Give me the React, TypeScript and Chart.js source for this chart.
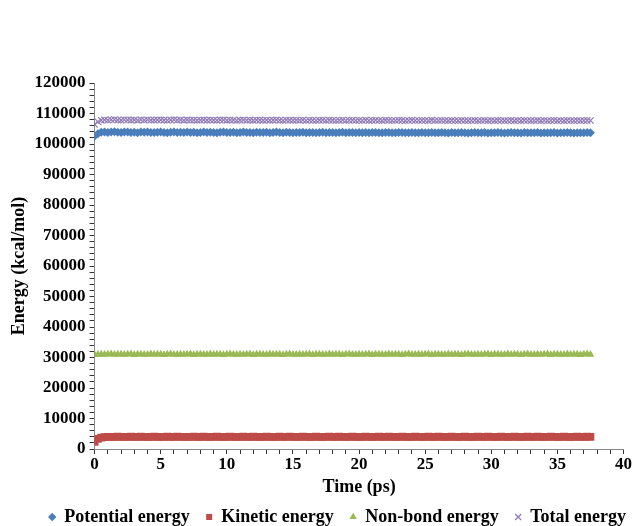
import React, { useEffect, useRef } from "react";
import { Chart, registerables } from "chart.js";

Chart.register(...registerables);

const timePs = [
  0, 0.25, 0.5, 0.75, 1, 1.25, 1.5, 1.75, 2, 2.25,
  2.5, 2.75, 3, 3.25, 3.5, 3.75, 4, 4.25, 4.5, 4.75,
  5, 5.25, 5.5, 5.75, 6, 6.25, 6.5, 6.75, 7, 7.25,
  7.5, 7.75, 8, 8.25, 8.5, 8.75, 9, 9.25, 9.5, 9.75,
  10, 10.25, 10.5, 10.75, 11, 11.25, 11.5, 11.75, 12, 12.25,
  12.5, 12.75, 13, 13.25, 13.5, 13.75, 14, 14.25, 14.5, 14.75,
  15, 15.25, 15.5, 15.75, 16, 16.25, 16.5, 16.75, 17, 17.25,
  17.5, 17.75, 18, 18.25, 18.5, 18.75, 19, 19.25, 19.5, 19.75,
  20, 20.25, 20.5, 20.75, 21, 21.25, 21.5, 21.75, 22, 22.25,
  22.5, 22.75, 23, 23.25, 23.5, 23.75, 24, 24.25, 24.5, 24.75,
  25, 25.25, 25.5, 25.75, 26, 26.25, 26.5, 26.75, 27, 27.25,
  27.5, 27.75, 28, 28.25, 28.5, 28.75, 29, 29.25, 29.5, 29.75,
  30, 30.25, 30.5, 30.75, 31, 31.25, 31.5, 31.75, 32, 32.25,
  32.5, 32.75, 33, 33.25, 33.5, 33.75, 34, 34.25, 34.5, 34.75,
  35, 35.25, 35.5, 35.75, 36, 36.25, 36.5, 36.75, 37, 37.25,
  37.5,
];

const potentialEnergy = [
  102600, 103400, 103850, 103950, 103800, 103900, 104000, 103850, 103750, 103900,
  103950, 103800, 103850, 103700, 103900, 103850, 103950, 103800, 103750, 103850,
  103900, 103800, 103700, 103850, 103950, 103800, 103850, 103750, 103900, 103800,
  103850, 103700, 103800, 103900, 103750, 103850, 103800, 103700, 103850, 103900,
  103750, 103800, 103850, 103700, 103800, 103900, 103750, 103800, 103700, 103850,
  103800, 103750, 103850, 103700, 103800, 103900, 103750, 103700, 103850, 103800,
  103700, 103800, 103750, 103850, 103700, 103800, 103750, 103650, 103800, 103850,
  103700, 103750, 103800, 103650, 103750, 103850, 103700, 103750, 103800, 103650,
  103750, 103700, 103800, 103650, 103750, 103800, 103700, 103650, 103800, 103750,
  103650, 103700, 103800, 103750, 103650, 103700, 103800, 103700, 103650, 103750,
  103700, 103650, 103800, 103700, 103650, 103750, 103700, 103600, 103750, 103700,
  103650, 103750, 103700, 103600, 103700, 103750, 103650, 103700, 103750, 103600,
  103700, 103650, 103750, 103700, 103600, 103700, 103750, 103650, 103700, 103600,
  103750, 103700, 103650, 103700, 103750, 103600, 103700, 103650, 103700, 103750,
  103600, 103700, 103650, 103750, 103700, 103600, 103700, 103650, 103700, 103750,
  103700,
];

const kineticEnergy = [
  2300, 3300, 3750, 3900, 3950, 4000, 3950, 4050, 4000, 3950,
  4000, 4050, 3950, 4000, 4050, 4000, 3950, 4000, 4050, 4000,
  3950, 4000, 4050, 3950, 4000, 4050, 4000, 3950, 4000, 4000,
  4050, 3950, 4000, 4050, 4000, 3950, 4000, 4050, 4000, 3950,
  4000, 4050, 3950, 4000, 4000, 4050, 3950, 4000, 4050, 4000,
  3950, 4000, 4050, 4000, 3950, 4000, 4050, 3950, 4000, 4050,
  4000, 3950, 4000, 4050, 4000, 3950, 4000, 4050, 4000, 3950,
  4000, 4050, 3950, 4000, 4050, 4000, 3950, 4000, 4050, 4000,
  3950, 4000, 4050, 4000, 3950, 4000, 4050, 3950, 4000, 4050,
  4000, 3950, 4000, 4050, 4000, 3950, 4000, 4050, 4000, 3950,
  4000, 4050, 3950, 4000, 4050, 4000, 3950, 4000, 4050, 4000,
  3950, 4000, 4050, 4000, 3950, 4000, 4050, 3950, 4000, 4050,
  4000, 3950, 4000, 4050, 4000, 3950, 4000, 4050, 4000, 3950,
  4000, 4050, 3950, 4000, 4050, 4000, 3950, 4000, 4050, 4000,
  3950, 4000, 4050, 4000, 3950, 4000, 4050, 3950, 4000, 4050,
  4000,
];

const nonBondEnergy = [
  30900, 31000, 31100, 30950, 31050, 31150, 30950, 31050, 31100, 30950,
  31050, 31150, 30900, 31050, 31100, 30950, 31000, 31150, 30950, 31050,
  31100, 30900, 31050, 31150, 30950, 31000, 31100, 30950, 31050, 31150,
  30900, 31050, 31100, 30950, 31000, 31150, 30950, 31050, 31100, 30900,
  31050, 31150, 30950, 31000, 31100, 30950, 31050, 31150, 30900, 31050,
  31100, 30950, 31000, 31150, 30950, 31050, 31100, 30900, 31050, 31150,
  30950, 31000, 31100, 30950, 31050, 31150, 30900, 31050, 31100, 30950,
  31000, 31150, 30950, 31050, 31100, 30900, 31050, 31150, 30950, 31000,
  31100, 30950, 31050, 31150, 30900, 31050, 31100, 30950, 31000, 31150,
  30950, 31050, 31100, 30900, 31050, 31150, 30950, 31000, 31100, 30950,
  31050, 31150, 30900, 31050, 31100, 30950, 31000, 31150, 30950, 31050,
  31100, 30900, 31050, 31150, 30950, 31000, 31100, 30950, 31050, 31150,
  30900, 31050, 31100, 30950, 31000, 31150, 30950, 31050, 31100, 30900,
  31050, 31150, 30950, 31000, 31100, 30950, 31050, 31150, 30900, 31050,
  31100, 30950, 31000, 31150, 30950, 31050, 31100, 30900, 31050, 31150,
  30950,
];

const totalEnergy = [
  106400, 107300, 107750, 107900, 107800, 107950, 108000, 107850, 107800, 107950,
  107900, 107800, 107900, 107750, 107950, 107850, 107950, 107800, 107800, 107900,
  107900, 107800, 107750, 107900, 107950, 107800, 107900, 107750, 107900, 107850,
  107850, 107750, 107800, 107900, 107800, 107850, 107800, 107750, 107900, 107900,
  107750, 107850, 107850, 107700, 107800, 107900, 107750, 107800, 107750, 107850,
  107800, 107750, 107850, 107750, 107800, 107900, 107750, 107700, 107850, 107800,
  107750, 107800, 107750, 107850, 107700, 107800, 107750, 107700, 107800, 107850,
  107700, 107800, 107750, 107700, 107750, 107850, 107700, 107750, 107800, 107700,
  107750, 107700, 107800, 107700, 107750, 107800, 107700, 107650, 107800, 107750,
  107700, 107700, 107800, 107750, 107650, 107700, 107800, 107700, 107700, 107750,
  107700, 107650, 107800, 107700, 107700, 107750, 107700, 107650, 107750, 107700,
  107650, 107750, 107700, 107650, 107700, 107750, 107650, 107700, 107750, 107650,
  107700, 107650, 107750, 107700, 107650, 107700, 107750, 107650, 107700, 107650,
  107750, 107700, 107650, 107700, 107750, 107650, 107700, 107650, 107700, 107750,
  107650, 107700, 107650, 107750, 107700, 107650, 107700, 107650, 107700, 107750,
  107700,
];

const seriesLabels = ["Potential energy", "Kinetic energy", "Non-bond energy", "Total energy"];
const xTickValues = [0, 5, 10, 15, 20, 25, 30, 35, 40];
const yTickLabelStep = 10000;

const FONT = "'Liberation Serif', 'Times New Roman', serif";

function toPoints(ys: number[]) {
  return ys.map((y, i) => ({ x: timePs[i], y }));
}

export default function App() {
  const ref = useRef<HTMLCanvasElement | null>(null);

  useEffect(() => {
    document.body.style.margin = "0";
    const canvas = ref.current;
    if (!canvas) return;
    Chart.defaults.font.family = FONT;
    const chart = new Chart(canvas, {
      type: "scatter",
      data: {
        datasets: [
          {
            label: seriesLabels[0],
            data: toPoints(potentialEnergy),
            pointStyle: "rectRot",
            pointRadius: 4.5,
            backgroundColor: "#4A7EBB",
            borderColor: "#4A7EBB",
            borderWidth: 0,
          },
          {
            label: seriesLabels[1],
            data: toPoints(kineticEnergy),
            pointStyle: "rect",
            pointRadius: 5.5,
            backgroundColor: "#BE4B48",
            borderColor: "#BE4B48",
            borderWidth: 0,
          },
          {
            label: seriesLabels[2],
            data: toPoints(nonBondEnergy),
            pointStyle: "triangle",
            pointRadius: 4.5,
            backgroundColor: "#98B954",
            borderColor: "#98B954",
            borderWidth: 0,
          },
          {
            label: seriesLabels[3],
            data: toPoints(totalEnergy),
            pointStyle: "crossRot",
            pointRadius: 4.5,
            backgroundColor: "#9079B6",
            borderColor: "#9079B6",
            borderWidth: 1.2,
          },
        ],
      },
      options: {
        animation: false,
        responsive: false,
        layout: { padding: { top: 83, right: 0, left: 9, bottom: -10 } },
        plugins: {
          tooltip: { enabled: false },
          legend: {
            position: "bottom",
            align: "end",
            labels: {
              usePointStyle: true,
              boxWidth: 6,
              boxHeight: 6,
              padding: 6,
              color: "#000",
              font: { family: FONT, size: 18, weight: "bold" },
              generateLabels: (c: any) => {
                const items = Chart.defaults.plugins.legend.labels.generateLabels(c);
                return items.map((it: any, i: number) => ({
                  ...it,
                  text: i < items.length - 1 ? it.text + "  \u200A" : it.text,
                }));
              },
            },
          },
        },
        scales: {
          x: {
            type: "linear",
            min: 0,
            max: 40,
            border: { color: "#888", width: 1 },
            grid: { drawOnChartArea: false, tickLength: 5, color: "#333" },
            ticks: {
              stepSize: 1,
              autoSkip: false,
              maxRotation: 0,
              color: "#000",
              padding: 0,
              font: { family: FONT, size: 17, weight: "bold" },
              callback: (v: any) => (xTickValues.includes(Number(v)) ? String(v) : ""),
            },
            title: {
              display: true,
              text: "Time (ps)",
              color: "#000",
              font: { family: FONT, size: 18, weight: "bold" },
              padding: { top: 2, bottom: 4 },
            },
          },
          y: {
            type: "linear",
            min: 0,
            max: 120000,
            border: { color: "#888", width: 1 },
            grid: { drawOnChartArea: false, tickLength: 5, color: "#333" },
            ticks: {
              stepSize: 2000,
              autoSkip: false,
              color: "#000",
              padding: 4,
              font: { family: FONT, size: 17, weight: "bold" },
              callback: (v: any) => (Number(v) % yTickLabelStep === 0 ? String(v) : ""),
            },
            title: {
              display: true,
              text: "Energy (kcal/mol)",
              color: "#000",
              font: { family: FONT, size: 18, weight: "bold" },
              padding: { top: 0, bottom: 0 },
            },
          },
        },
      },
    });
    return () => chart.destroy();
  }, []);

  return (
    <div style={{ width: 632, height: 526, background: "#fff" }}>
      <canvas ref={ref} width={632} height={526} />
    </div>
  );
}
